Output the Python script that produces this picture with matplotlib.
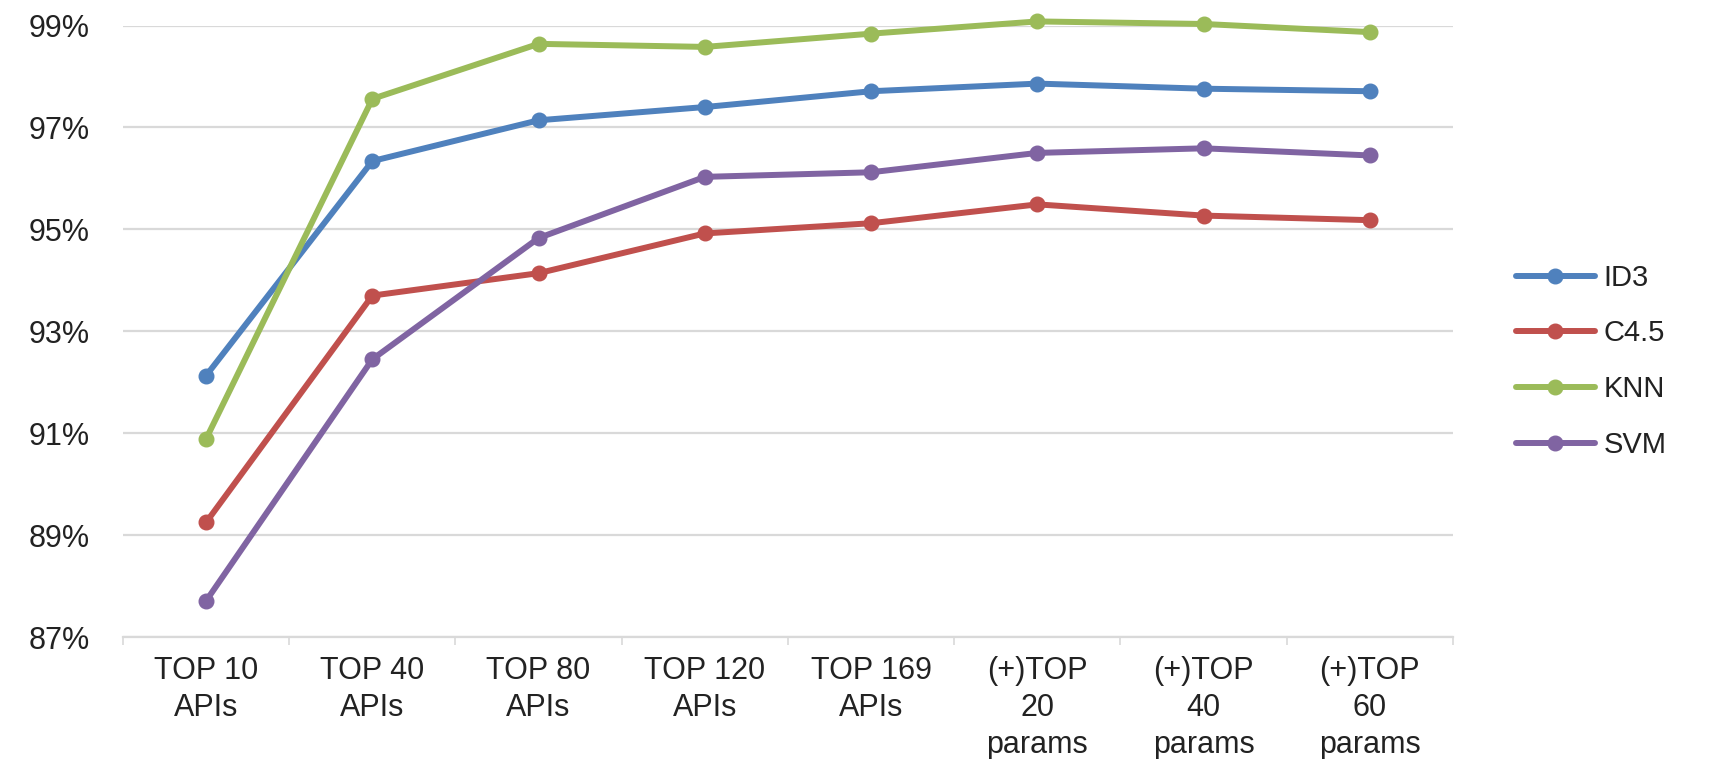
import matplotlib
matplotlib.use("Agg")
import matplotlib.pyplot as plt
from matplotlib.ticker import FixedLocator, FuncFormatter
import numpy as np

plt.rcParams['font.family'] = ['Liberation Sans', 'DejaVu Sans']

# Feature-set sizes evaluated
categories = ["TOP 10\nAPIs", "TOP 40\nAPIs", "TOP 80\nAPIs", "TOP 120\nAPIs",
              "TOP 169\nAPIs", "(+)TOP\n20\nparams", "(+)TOP\n40\nparams",
              "(+)TOP\n60\nparams"]

# Detection accuracy (%) per classifier
id3 = [92.13, 96.34, 97.14, 97.40, 97.71, 97.86, 97.76, 97.71]
c45 = [89.25, 93.70, 94.14, 94.92, 95.12, 95.49, 95.27, 95.18]
knn = [90.89, 97.56, 98.64, 98.58, 98.84, 99.08, 99.03, 98.87]
svm = [87.71, 92.45, 94.83, 96.03, 96.12, 96.50, 96.59, 96.45]

series_names = ["ID3", "C4.5", "KNN", "SVM"]
series_colors = ["#4F81BD", "#C0504D", "#9BBB59", "#8064A2"]
y_ticks = [87, 89, 91, 93, 95, 97, 99]

fig = plt.figure(figsize=(17.13, 7.59), dpi=100)
ax = fig.add_axes([0.0718, 0.1607, 0.7764, 0.8057])

x = np.arange(len(categories))
for name, vals, col in zip(series_names, [id3, c45, knn, svm], series_colors):
    ax.plot(x, vals, color=col, linewidth=4.3, marker="o", markersize=10.5,
            markeredgecolor=col, label=name, solid_capstyle="round",
            solid_joinstyle="round", clip_on=False)

ax.set_xlim(-0.5, len(categories) - 0.5)
ax.set_ylim(87, 99)

ax.yaxis.set_major_locator(FixedLocator(y_ticks))
ax.yaxis.set_major_formatter(FuncFormatter(lambda v, p: f"{v:.0f}%"))
ax.tick_params(axis="y", length=0, pad=24, labelsize=22, labelcolor="#222222")
ax.grid(axis="y", color="#D9D9D9", linewidth=1.6)
ax.set_axisbelow(True)

# category labels centred, ticks on the category boundaries
ax.set_xticks(x)
ax.set_xticklabels(categories, linespacing=1.3)
ax.tick_params(axis="x", which="major", length=0, pad=14, labelsize=22,
               labelcolor="#222222")
ax.set_xticks(np.arange(len(categories) + 1) - 0.5, minor=True)
ax.tick_params(axis="x", which="minor", length=6, width=1.2, color="#D9D9D9",
               direction="out")

for s in ["top", "right", "left"]:
    ax.spines[s].set_visible(False)
ax.spines["bottom"].set_color("#D9D9D9")
ax.spines["bottom"].set_linewidth(1.6)

leg = fig.legend(loc="center left", bbox_to_anchor=(0.8697, 0.524),
                 frameon=False, fontsize=21, handlelength=2.7,
                 handletextpad=0.3, labelspacing=0.95)
for t in leg.get_texts():
    t.set_color("#222222")

fig.savefig("out.png", dpi=100)
